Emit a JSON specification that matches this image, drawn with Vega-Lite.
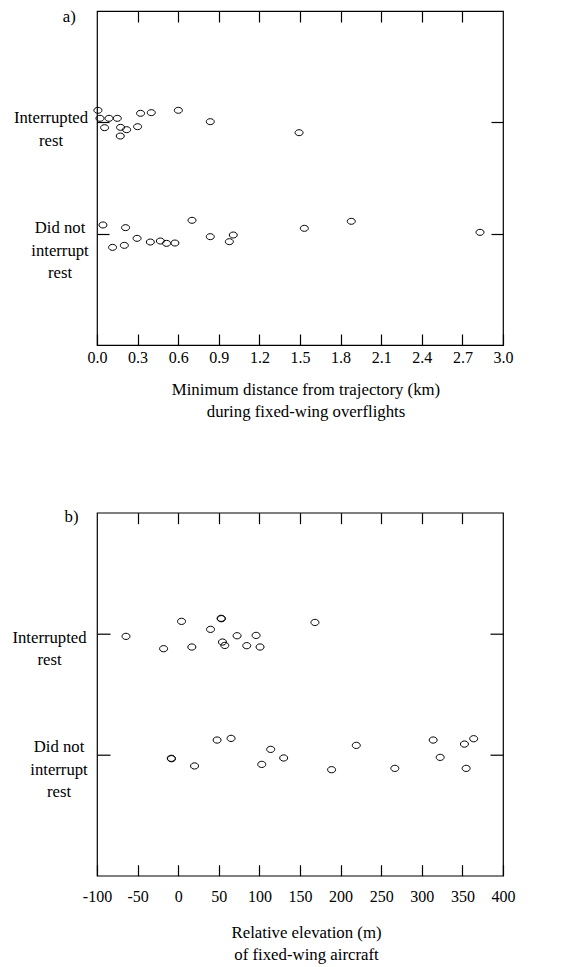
{
  "$schema": "https://vega.github.io/schema/vega-lite/v6.json",
  "background": "white",
  "padding": {"left": 11, "top": 7, "right": 5, "bottom": 0},
  "config": {
    "font": "Liberation Serif",
    "view": {"stroke": "black", "strokeWidth": 1.2},
    "axis": {
      "domain": false,
      "grid": false,
      "tickColor": "black",
      "tickWidth": 1.2,
      "labelColor": "black",
      "titleColor": "black",
      "labelFont": "Liberation Serif",
      "titleFont": "Liberation Serif",
      "labelFontSize": 16,
      "titleFontSize": 16.8,
      "titleFontWeight": "normal"
    }
  },
  "bounds": "flush",
  "spacing": 167.7,
  "vconcat": [
    {
      "width": 406,
      "height": 334,
      "data": {
        "values": [
          {"group": "Interrupted rest", "d": 0.007, "p": 2.108},
          {"group": "Interrupted rest", "d": 0.022, "p": 2.036},
          {"group": "Interrupted rest", "d": 0.089, "p": 2.036},
          {"group": "Interrupted rest", "d": 0.15, "p": 2.036},
          {"group": "Interrupted rest", "d": 0.056, "p": 1.952},
          {"group": "Interrupted rest", "d": 0.174, "p": 1.955},
          {"group": "Interrupted rest", "d": 0.172, "p": 1.877},
          {"group": "Interrupted rest", "d": 0.219, "p": 1.934},
          {"group": "Interrupted rest", "d": 0.3, "p": 1.961},
          {"group": "Interrupted rest", "d": 0.322, "p": 2.081},
          {"group": "Interrupted rest", "d": 0.401, "p": 2.087},
          {"group": "Interrupted rest", "d": 0.601, "p": 2.108},
          {"group": "Interrupted rest", "d": 0.837, "p": 2.006},
          {"group": "Interrupted rest", "d": 1.493, "p": 1.907},
          {"group": "Did not interrupt rest", "d": 0.044, "p": 1.078},
          {"group": "Did not interrupt rest", "d": 0.211, "p": 1.054},
          {"group": "Did not interrupt rest", "d": 0.115, "p": 0.877},
          {"group": "Did not interrupt rest", "d": 0.202, "p": 0.895},
          {"group": "Did not interrupt rest", "d": 0.296, "p": 0.958},
          {"group": "Did not interrupt rest", "d": 0.394, "p": 0.925},
          {"group": "Did not interrupt rest", "d": 0.468, "p": 0.934},
          {"group": "Did not interrupt rest", "d": 0.514, "p": 0.913},
          {"group": "Did not interrupt rest", "d": 0.576, "p": 0.916},
          {"group": "Did not interrupt rest", "d": 0.702, "p": 1.12},
          {"group": "Did not interrupt rest", "d": 0.837, "p": 0.973},
          {"group": "Did not interrupt rest", "d": 0.978, "p": 0.928},
          {"group": "Did not interrupt rest", "d": 1.007, "p": 0.988},
          {"group": "Did not interrupt rest", "d": 1.532, "p": 1.048},
          {"group": "Did not interrupt rest", "d": 1.879, "p": 1.111},
          {"group": "Did not interrupt rest", "d": 2.83, "p": 1.012}
        ]
      },
      "layer": [
        {
          "mark": {"type": "point", "shape": "M -1 0 A 1 0.75 0 1 0 1 0 A 1 0.75 0 1 0 -1 0 Z", "size": 64, "filled": false, "stroke": "black", "strokeWidth": 1, "opacity": 1},
          "encoding": {
            "x": {
              "field": "d", "type": "quantitative",
              "scale": {"domain": [0, 3], "nice": false, "zero": false},
              "axis": {
                "orient": "bottom",
                "values": [0, 0.3, 0.6, 0.9, 1.2, 1.5, 1.8, 2.1, 2.4, 2.7, 3.0],
                "format": ".1f",
                "tickSize": -11,
                "labelPadding": 28,
                "labelBaseline": "alphabetic",
                "labelFlush": false,
                "labelOverlap": false,
                "title": ["Minimum distance from trajectory (km)", "during fixed-wing overflights"],
                "titleX": 208.5,
                "titleY": 49.3,
                "titleAlign": "center",
                "titleBaseline": "alphabetic",
                "titleLineHeight": 22.4
              }
            },
            "y": {
              "field": "p", "type": "quantitative",
              "scale": {"domain": [0, 3], "nice": false, "zero": false},
              "axis": {
                "orient": "left",
                "values": [1, 2],
                "tickSize": -12,
                "title": "a)",
                "titleAngle": 0,
                "titleX": -34.7,
                "titleY": 5,
                "titleAlign": "left",
                "titleBaseline": "middle",
                "labelFontSize": 16.7,
                "labelLineHeight": 22.5,
                "labelAlign": "center",
                "labelBaseline": "alphabetic",
                "labelOverlap": false,
                "labelFlush": false,
                "labelExpr": "datum.value == 2 ? ['Interrupted', 'rest'] : ['Did not', 'interrupt', 'rest']",
                "labelPadding": {"condition": {"test": "datum.value == 2", "value": 58.5}, "value": 49.5},
                "labelOffset": {"condition": {"test": "datum.value == 2", "value": 0.5}, "value": -0.7}
              }
            }
          }
        },
        {
          "mark": {"type": "point", "opacity": 0},
          "encoding": {
            "x": {"field": "d", "type": "quantitative", "axis": {"orient": "top", "values": [0.3, 0.6, 0.9, 1.2, 1.5, 1.8, 2.1, 2.4, 2.7], "tickSize": -11, "labels": false, "title": null}},
            "y": {"field": "p", "type": "quantitative", "axis": {"orient": "right", "values": [1, 2], "tickSize": -12, "labels": false, "title": null}}
          }
        }
      ],
      "resolve": {"axis": {"x": "independent", "y": "independent"}}
    },
    {
      "width": 406,
      "height": 363,
      "data": {
        "values": [
          {"group": "Interrupted rest", "e": -64.3, "p": 1.978},
          {"group": "Interrupted rest", "e": -18, "p": 1.876},
          {"group": "Interrupted rest", "e": 4.1, "p": 2.102},
          {"group": "Interrupted rest", "e": 16.8, "p": 1.89},
          {"group": "Interrupted rest", "e": 39.8, "p": 2.036},
          {"group": "Interrupted rest", "e": 53.3, "p": 2.124},
          {"group": "Interrupted rest", "e": 52.8, "p": 2.127},
          {"group": "Interrupted rest", "e": 54.5, "p": 1.931},
          {"group": "Interrupted rest", "e": 57.4, "p": 1.903},
          {"group": "Interrupted rest", "e": 72.5, "p": 1.983},
          {"group": "Interrupted rest", "e": 84.4, "p": 1.901},
          {"group": "Interrupted rest", "e": 95.9, "p": 1.986},
          {"group": "Interrupted rest", "e": 100.8, "p": 1.89},
          {"group": "Interrupted rest", "e": 168.4, "p": 2.093},
          {"group": "Did not interrupt rest", "e": -8.2, "p": 0.967},
          {"group": "Did not interrupt rest", "e": -8.6, "p": 0.97},
          {"group": "Did not interrupt rest", "e": 20.1, "p": 0.907},
          {"group": "Did not interrupt rest", "e": 47.9, "p": 1.121},
          {"group": "Did not interrupt rest", "e": 65.1, "p": 1.135},
          {"group": "Did not interrupt rest", "e": 102.9, "p": 0.92},
          {"group": "Did not interrupt rest", "e": 113.9, "p": 1.044},
          {"group": "Did not interrupt rest", "e": 129.9, "p": 0.973},
          {"group": "Did not interrupt rest", "e": 188.9, "p": 0.876},
          {"group": "Did not interrupt rest", "e": 219.3, "p": 1.077},
          {"group": "Did not interrupt rest", "e": 266.8, "p": 0.887},
          {"group": "Did not interrupt rest", "e": 314, "p": 1.121},
          {"group": "Did not interrupt rest", "e": 322.6, "p": 0.978},
          {"group": "Did not interrupt rest", "e": 352.5, "p": 1.088},
          {"group": "Did not interrupt rest", "e": 354.6, "p": 0.887},
          {"group": "Did not interrupt rest", "e": 363.9, "p": 1.132}
        ]
      },
      "layer": [
        {
          "mark": {"type": "point", "shape": "M -1 0 A 1 0.78 0 1 0 1 0 A 1 0.78 0 1 0 -1 0 Z", "size": 64, "filled": false, "stroke": "black", "strokeWidth": 1, "opacity": 1},
          "encoding": {
            "x": {
              "field": "e", "type": "quantitative",
              "scale": {"domain": [-100, 400], "nice": false, "zero": false},
              "axis": {
                "orient": "bottom",
                "values": [-100, -50, 0, 50, 100, 150, 200, 250, 300, 350, 400],
                "labelExpr": "'' + datum.value",
                "tickSize": -11,
                "labelPadding": 36.5,
                "labelBaseline": "alphabetic",
                "labelFlush": false,
                "labelOverlap": false,
                "title": ["Relative elevation (m)", "of fixed-wing aircraft"],
                "titleX": 209,
                "titleY": 61.3,
                "titleAlign": "center",
                "titleBaseline": "alphabetic",
                "titleLineHeight": 22.7
              }
            },
            "y": {
              "field": "p", "type": "quantitative",
              "scale": {"domain": [0, 3], "nice": false, "zero": false},
              "axis": {
                "orient": "left",
                "values": [1, 2],
                "tickSize": -13,
                "title": "b)",
                "titleAngle": 0,
                "titleX": -33,
                "titleY": 3.3,
                "titleAlign": "left",
                "titleBaseline": "middle",
                "labelFontSize": 16.7,
                "labelLineHeight": 22.5,
                "labelAlign": "center",
                "labelBaseline": "alphabetic",
                "labelOverlap": false,
                "labelFlush": false,
                "labelExpr": "datum.value == 2 ? ['Interrupted', 'rest'] : ['Did not', 'interrupt', 'rest']",
                "labelPadding": {"condition": {"test": "datum.value == 2", "value": 61}, "value": 51.5},
                "labelOffset": {"condition": {"test": "datum.value == 2", "value": 8.5}, "value": -3}
              }
            }
          }
        },
        {
          "mark": {"type": "point", "opacity": 0},
          "encoding": {
            "x": {"field": "e", "type": "quantitative", "axis": {"orient": "top", "values": [-50, 0, 50, 100, 150, 200, 250, 300, 350], "tickSize": -11, "labels": false, "title": null}},
            "y": {"field": "p", "type": "quantitative", "axis": {"orient": "right", "values": [1, 2], "tickSize": -13, "labels": false, "title": null}}
          }
        }
      ],
      "resolve": {"axis": {"x": "independent", "y": "independent"}}
    }
  ]
}
